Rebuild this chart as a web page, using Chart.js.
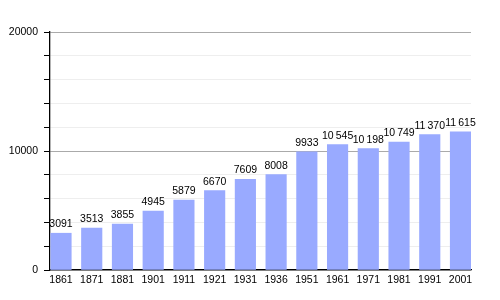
<!DOCTYPE html>
<html>
<head>
<meta charset="utf-8">
<script src="https://cdn.jsdelivr.net/npm/chart.js@4/dist/chart.umd.min.js"></script>
<style>
  html, body { margin: 0; padding: 0; background: #fff; }
  #wrap { width: 500px; height: 300px; }
</style>
</head>
<body>
<div id="wrap"><canvas id="popChart" width="500" height="300"></canvas></div>
<script>
// census years and population
const years = ['1861', '1871', '1881', '1901', '1911', '1921', '1931', '1936', '1951', '1961', '1971', '1981', '1991', '2001'];
const population = [3091, 3513, 3855, 4945, 5879, 6670, 7609, 8008, 9933, 10545, 10198, 10749, 11370, 11615];
const yLabelValues = [0, 10000, 20000];

const fontFamily = '"Liberation Sans", Arial, sans-serif';

// 10 545 style for five-digit numbers, plain otherwise
const fmtPop = (v) => v >= 10000 ? String(v).replace(/\B(?=(\d{3})+(?!\d))/g, '\u2009') : String(v);

const valueLabels = {
    id: 'valueLabels',
    afterDatasetsDraw(chart) {
        const ctx = chart.ctx;
        const meta = chart.getDatasetMeta(0);
        ctx.save();
        ctx.font = '10.5px ' + fontFamily;
        ctx.fillStyle = '#000';
        ctx.textAlign = 'center';
        ctx.textBaseline = 'alphabetic';
        meta.data.forEach((bar, i) => {
            ctx.fillText(fmtPop(population[i]), bar.x, bar.y - 6);
        });
        ctx.restore();
    }
};

new Chart(document.getElementById('popChart'), {
    type: 'bar',
    data: {
        datasets: [{
            data: population.map((v, i) => ({ x: i, y: v })),
            backgroundColor: '#99aaff',
            borderWidth: 0,
            barThickness: 20.5
        }]
    },
    options: {
        responsive: false,
        animation: false,
        devicePixelRatio: 1,
        layout: { padding: { left: 0, right: 29, top: 32, bottom: 0 } },
        plugins: { legend: { display: false }, tooltip: { enabled: false } },
        scales: {
            x: {
                type: 'linear',
                offset: false,
                min: -0.358,
                max: 13.342,
                grid: { display: true, drawOnChartArea: false, drawTicks: false },
                border: { color: '#000', width: 1.3 },
                ticks: {
                    stepSize: 1,
                    includeBounds: false,
                    autoSkip: false,
                    maxRotation: 0,
                    padding: 4,
                    color: '#000',
                    font: { family: fontFamily, size: 10.5 },
                    callback: (v) => Number.isInteger(v) && years[v] ? years[v] : ''
                },
                afterFit: (scale) => { scale.height = 30; }
            },
            y: {
                min: 0,
                max: 20000,
                grid: {
                    color: (c) => c.tick && c.tick.value % 10000 === 0 ? '#aaaaaa' : '#eeeeee',
                    tickColor: '#000',
                    tickLength: 6
                },
                border: { color: '#000', width: 1.3 },
                ticks: {
                    stepSize: 2000,
                    autoSkip: false,
                    padding: 6,
                    color: '#000',
                    font: { family: fontFamily, size: 10.5 },
                    callback: (v) => yLabelValues.includes(v) ? String(v) : ''
                },
                afterFit: (scale) => { scale.width = 50; }
            }
        }
    },
    plugins: [valueLabels]
});
</script>
</body>
</html>
